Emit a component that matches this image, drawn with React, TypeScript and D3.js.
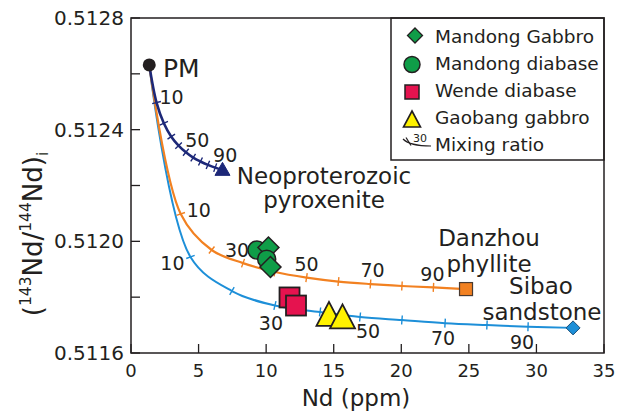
import React from "react";
import * as d3 from "d3";

// ---------- data ----------
const xTicks = [0, 5, 10, 15, 20, 25, 30, 35];
const yTicksMinor = [0.5116, 0.5118, 0.512, 0.5122, 0.5124, 0.5126, 0.5128];
const yTickLabels = [0.5116, 0.512, 0.5124, 0.5128];

const pm = { nd: 1.35, r: 0.512632 };

// mixing curves: 0%,10%,...,100% contaminant
const sibaoCurve: [number, number][] = [
  [1.35, 0.512632], [4.4, 0.511944], [7.47, 0.511822], [10.65, 0.51177],
  [13.99, 0.511747], [16.95, 0.511729], [20.05, 0.511718], [23.24, 0.511707],
  [26.34, 0.5117], [29.38, 0.511694], [32.71, 0.51169],
];
const danzhouCurve: [number, number][] = [
  [1.35, 0.512632], [3.68, 0.512098], [5.97, 0.511969], [8.29, 0.511922],
  [10.66, 0.51189], [12.99, 0.51187], [15.35, 0.511856], [17.72, 0.511847],
  [20.05, 0.51184], [22.38, 0.511835], [24.79, 0.511829],
];
const pyroxeniteCurve: [number, number][] = [
  [1.35, 0.512632], [1.89, 0.512497], [2.43, 0.512423], [2.98, 0.512375],
  [3.52, 0.512343], [4.06, 0.512319], [4.6, 0.5123], [5.14, 0.512286],
  [5.69, 0.512274], [6.23, 0.512264], [6.77, 0.512256],
];

const mandongDiabase: [number, number][] = [[9.32, 0.511969], [10.04, 0.511936]];
const mandongGabbro: [number, number][] = [[10.17, 0.511978], [10.32, 0.511908]];
const wendeDiabase: [number, number][] = [[11.73, 0.511799], [12.21, 0.51177]];
const gaobangGabbro: [number, number][] = [[14.65, 0.51174], [15.65, 0.511731]];

const sibaoLabels = [
  { i: 1, t: "10", dx: -18, dy: 6.5 },
  { i: 3, t: "30", dx: -4, dy: 17.5 },
  { i: 5, t: "50", dx: 8, dy: 14 },
  { i: 7, t: "70", dx: -2, dy: 15 },
  { i: 9, t: "90", dx: -6, dy: 15 },
];
const danzhouLabels = [
  { i: 1, t: "10", dx: 18, dy: -4 },
  { i: 3, t: "30", dx: -6, dy: -13 },
  { i: 5, t: "50", dx: 0, dy: -13.5 },
  { i: 7, t: "70", dx: 2, dy: -14 },
  { i: 9, t: "90", dx: -1, dy: -13.5 },
];
const pyroxeniteLabels = [
  { i: 1, t: "10", dx: 15, dy: -5.5 },
  { i: 5, t: "50", dx: 11.5, dy: -12 },
  { i: 9, t: "90", dx: 10, dy: -12.6 },
];

const legendItems = ["Mandong Gabbro", "Mandong diabase", "Wende diabase", "Gaobang gabbro", "Mixing ratio"];

// ---------- style ----------
const INK = "#231f20";
const BLUE = "#1d8fd8";
const ORANGE = "#f28121";
const NAVY = "#1d2878";
const GREEN = "#0f9d48";
const RED = "#e5134f";
const YELLOW = "#fff200";
const FONT = "DejaVu Sans, sans-serif";

const x = d3.scaleLinear().domain([0, 35]).range([131, 604]);
const y = d3.scaleLinear().domain([0.5116, 0.5128]).range([353, 18]);

const line = d3
  .line<[number, number]>()
  .x((d) => x(d[0]))
  .y((d) => y(d[1]))
  .curve(d3.curveCatmullRom.alpha(0.5));

function ticksFor(curve: [number, number][], half: number) {
  const out: string[] = [];
  for (let i = 1; i < curve.length - 1; i++) {
    const px = x(curve[i][0]);
    const py = y(curve[i][1]);
    const tx = x(curve[i + 1][0]) - x(curve[i - 1][0]);
    const ty = y(curve[i + 1][1]) - y(curve[i - 1][1]);
    const len = Math.hypot(tx, ty);
    const nx = -ty / len;
    const ny = tx / len;
    out.push(`M${px - nx * half},${py - ny * half}L${px + nx * half},${py + ny * half}`);
  }
  return out.join("");
}

function diamond(cx: number, cy: number, h: number) {
  return `M${cx},${cy - h}L${cx + h},${cy}L${cx},${cy + h}L${cx - h},${cy}Z`;
}
function triangle(cx: number, cy: number, w: number, h: number) {
  return `M${cx},${cy - h / 2}L${cx + w / 2},${cy + h / 2}L${cx - w / 2},${cy + h / 2}Z`;
}

function Curve({ data, color, width, labels }: any) {
  return (
    <g>
      <path d={line(data) || ""} fill="none" stroke={color} strokeWidth={width} />
      <path d={ticksFor(data, 4.5)} stroke={color} strokeWidth={1.4} fill="none" />
      {labels.map((l: any) => (
        <text
          key={l.t}
          x={x(data[l.i][0]) + l.dx}
          y={y(data[l.i][1]) + l.dy}
          textAnchor="middle"
          dominantBaseline="central"
          fontSize={19}
          fill={INK}
        >
          {l.t}
        </text>
      ))}
    </g>
  );
}

export default function App() {
  const sEnd = sibaoCurve[sibaoCurve.length - 1];
  const dEnd = danzhouCurve[danzhouCurve.length - 1];
  const pEnd = pyroxeniteCurve[pyroxeniteCurve.length - 1];
  return (
    <svg
      width={618}
      height={415}
      style={{ position: "absolute", left: 0, top: 0, background: "#fff" }}
      fontFamily={FONT}
    >
      {/* y ticks */}
      {yTicksMinor.map((t) => (
        <line key={t} x1={131} x2={140} y1={y(t)} y2={y(t)} stroke={INK} strokeWidth={1.3} />
      ))}
      {yTickLabels.map((t) => (
        <text key={t} x={124} y={y(t)} textAnchor="end" dominantBaseline="central" fontSize={20} fill={INK}>
          {t.toFixed(4)}
        </text>
      ))}
      {/* x ticks */}
      {xTicks.map((t) => (
        <g key={t}>
          <line x1={x(t)} x2={x(t)} y1={353} y2={344} stroke={INK} strokeWidth={1.3} />
          <text x={x(t)} y={377} textAnchor="middle" fontSize={18} fill={INK}>
            {t}
          </text>
        </g>
      ))}

      {/* axis titles */}
      <text x={356} y={406} textAnchor="middle" fontSize={23} fill={INK}>
        Nd (ppm)
      </text>
      <text transform="translate(42,234) rotate(-90)" textAnchor="middle" fontSize={26} fill={INK}>
        (<tspan fontSize={15.5} dy={-11}>143</tspan>
        <tspan dy={11}>Nd/</tspan>
        <tspan fontSize={15.5} dy={-11}>144</tspan>
        <tspan dy={11}>Nd)</tspan>
        <tspan fontSize={15.5} dy={6}>i</tspan>
      </text>

      {/* curves */}
      <Curve data={sibaoCurve} color={BLUE} width={2} labels={sibaoLabels} />
      <Curve data={danzhouCurve} color={ORANGE} width={2.2} labels={danzhouLabels} />
      <Curve data={pyroxeniteCurve} color={NAVY} width={2.6} labels={pyroxeniteLabels} />

      {/* end members */}
      <circle cx={x(pm.nd)} cy={y(pm.r)} r={6.5} fill={INK} />
      <text x={163} y={77} fontSize={25} fill={INK}>PM</text>
      <path d={triangle(x(pEnd[0]), y(pEnd[1]) - 1, 15, 13)} fill={NAVY} stroke={NAVY} strokeWidth={1} />
      <rect x={x(dEnd[0]) - 6.5} y={y(dEnd[1]) - 6.5} width={13} height={13} fill={ORANGE} stroke="#4a3a30" strokeWidth={1.2} />
      <path d={diamond(x(sEnd[0]), y(sEnd[1]), 7)} fill={BLUE} stroke="#1b4f7a" strokeWidth={1} />

      <text fontSize={23} fill={INK} textAnchor="middle">
        <tspan x={324} y={184}>Neoproterozoic</tspan>
        <tspan x={324} y={208}>pyroxenite</tspan>
      </text>
      <text fontSize={23} fill={INK} textAnchor="middle">
        <tspan x={489} y={246}>Danzhou</tspan>
        <tspan x={489} y={272}>phyllite</tspan>
      </text>
      <text fontSize={23} fill={INK} textAnchor="middle">
        <tspan x={541} y={294}>Sibao</tspan>
        <tspan x={542} y={320}>sandstone</tspan>
      </text>

      {/* samples */}
      <circle cx={x(mandongDiabase[0][0])} cy={y(mandongDiabase[0][1])} r={9} fill={GREEN} stroke={INK} strokeWidth={1.5} />
      <path d={diamond(x(mandongGabbro[0][0]), y(mandongGabbro[0][1]), 10.5)} fill={GREEN} stroke={INK} strokeWidth={1.5} />
      <circle cx={x(mandongDiabase[1][0])} cy={y(mandongDiabase[1][1])} r={9} fill={GREEN} stroke={INK} strokeWidth={1.5} />
      <path d={diamond(x(mandongGabbro[1][0]), y(mandongGabbro[1][1]), 10.5)} fill={GREEN} stroke={INK} strokeWidth={1.5} />
      {wendeDiabase.map((d, i) => (
        <rect key={i} x={x(d[0]) - 10} y={y(d[1]) - 10} width={20} height={20} fill={RED} stroke={INK} strokeWidth={1.8} />
      ))}
      {gaobangGabbro.map((d, i) => (
        <path key={i} d={triangle(x(d[0]), y(d[1]), 25, 24)} fill={YELLOW} stroke={INK} strokeWidth={1.8} strokeLinejoin="miter" />
      ))}

      {/* legend */}
      <rect x={391} y={18} width={213} height={142} fill="#fff" stroke={INK} strokeWidth={1.5} />
      <path d={diamond(415, 35.5, 7.5)} fill={GREEN} stroke={INK} strokeWidth={1.3} />
      <circle cx={412} cy={64.5} r={8} fill={GREEN} stroke={INK} strokeWidth={1.5} />
      <rect x={405} y={85} width={14} height={14} fill={RED} stroke={INK} strokeWidth={1.5} />
      <path d={triangle(412, 119, 17, 16)} fill={YELLOW} stroke={INK} strokeWidth={1.6} />
      <path d="M403,139 Q410,146 431,146" fill="none" stroke={INK} strokeWidth={1.2} />
      <path d="M406,137.5 L411,145.5" stroke={INK} strokeWidth={1.2} />
      <text x={413} y={142} fontSize={11} fill={INK}>30</text>
      {legendItems.map((t, i) => (
        <text key={t} x={435} y={43 + i * 27} fontSize={18.5} fill={INK}>
          {t}
        </text>
      ))}

      {/* frame */}
      <rect x={131} y={18} width={473} height={335} fill="none" stroke={INK} strokeWidth={1.5} />
    </svg>
  );
}
